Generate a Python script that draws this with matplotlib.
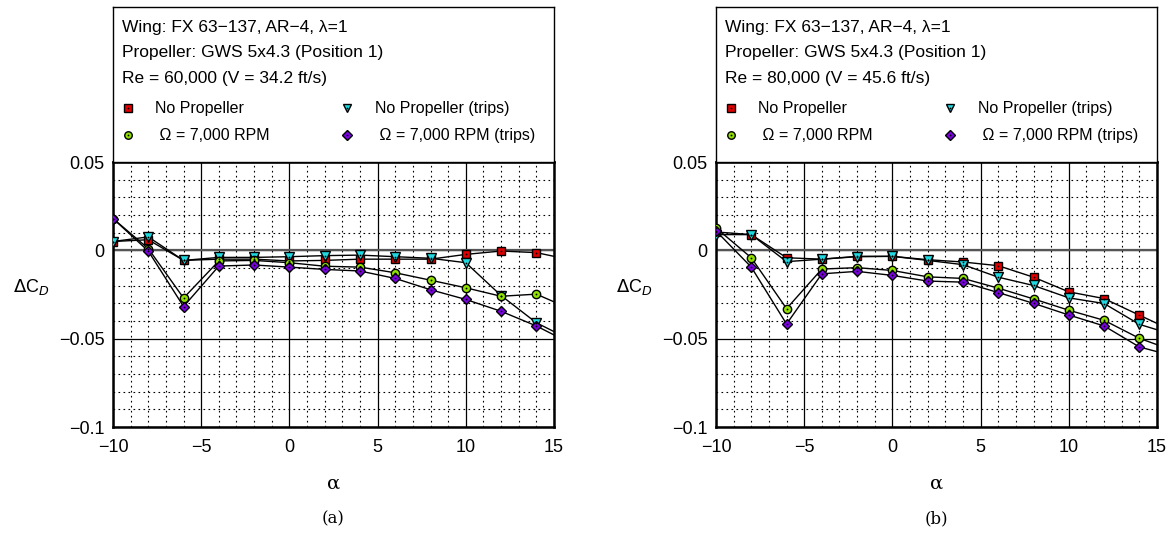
import numpy as np
import matplotlib
matplotlib.use('Agg')
import matplotlib.pyplot as plt

# angulo de ataque (el punto en 16 solo prolonga la linea hasta el borde)
alpha = [-10, -8, -6, -4, -2, 0, 2, 4, 6, 8, 10, 12, 14, 16]

# Re = 60,000
a_noprop = [0.005, 0.006, -0.0057, -0.005, -0.005, -0.006, -0.0057, -0.005, -0.005, -0.005, -0.0023, -0.0004, -0.0013, -0.0055]
a_noprop_tr = [0.005, 0.0076, -0.0057, -0.004, -0.004, -0.0036, -0.003, -0.0027, -0.0036, -0.0045, -0.007, -0.0256, -0.041, -0.051]
a_rpm = [0.018, 0.001, -0.027, -0.006, -0.0057, -0.007, -0.009, -0.0095, -0.0127, -0.0169, -0.0212, -0.026, -0.0248, -0.0335]
a_rpm_tr = [0.018, -0.0004, -0.0318, -0.0089, -0.0083, -0.0095, -0.0108, -0.0117, -0.0159, -0.0223, -0.0278, -0.0345, -0.0428, -0.053]

# Re = 80,000
b_noprop = [0.0104, 0.0089, -0.0042, -0.005, -0.0034, -0.0034, -0.0053, -0.0066, -0.0087, -0.0152, -0.0235, -0.0273, -0.0367, -0.046]
b_noprop_tr = [0.0089, 0.0089, -0.0064, -0.005, -0.0036, -0.0034, -0.0057, -0.0081, -0.0152, -0.0199, -0.0269, -0.0301, -0.0419, -0.048]
b_rpm = [0.0127, -0.0042, -0.033, -0.0106, -0.0098, -0.0114, -0.015, -0.0159, -0.0214, -0.0275, -0.0339, -0.0396, -0.0498, -0.057]
b_rpm_tr = [0.011, -0.0095, -0.0417, -0.0133, -0.0119, -0.0142, -0.0174, -0.018, -0.0239, -0.03, -0.0366, -0.0428, -0.0547, -0.06]

titulo = ['Wing: FX 63\u2212137, AR\u22124, \u03bb=1', 'Propeller: GWS 5x4.3 (Position 1)']
re_txt = ['Re = 60,000 (V = 34.2 ft/s)', 'Re = 80,000 (V = 45.6 ft/s)']
etiquetas = ['No Propeller', 'No Propeller (trips)', ' \u03a9 = 7,000 RPM', ' \u03a9 = 7,000 RPM (trips)']
subfig = ['(a)', '(b)']

# estilo de cada serie: marcador, color, tamano
estilos = [('s', '#e00000', 6.0), ('v', '#20d8e0', 7.0), ('o', '#90e000', 6.0), ('D', '#7a00e0', 5.2)]

plt.rcParams['font.family'] = ['Liberation Sans', 'DejaVu Sans']
plt.rcParams['axes.unicode_minus'] = True

fig = plt.figure(figsize=(11.73, 5.34), dpi=100)
W, H = 1173.0, 534.0

def serie(ax, y, est):
    m, c, s = est
    ax.plot(alpha, y, color='black', lw=1.0, zorder=3)
    ax.plot(alpha, y, linestyle='none', marker=m, ms=s, mfc=c, mec='black', mew=1.0, zorder=4)
    ax.plot(alpha, y, linestyle='none', marker='o', ms=1.3, mfc='black', mec='black', mew=0, zorder=5)

datos = [[a_noprop, a_noprop_tr, a_rpm, a_rpm_tr], [b_noprop, b_noprop_tr, b_rpm, b_rpm_tr]]
izq = [113, 716]

for k in range(2):
    x0 = izq[k]
    ancho = 441
    ax = fig.add_axes([x0 / W, (H - 427) / H, ancho / W, 265 / H])
    caja = fig.add_axes([x0 / W, (H - 162) / H, ancho / W, 155 / H])

    ax.set_xlim(-10, 15)
    ax.set_ylim(-0.1, 0.05)
    ax.set_xticks([-10, -5, 0, 5, 10, 15])
    ax.set_yticks([-0.1, -0.05, 0, 0.05])
    ax.set_yticklabels(['\u22120.1', '\u22120.05', '0', '0.05'])
    ax.set_xticklabels(['\u221210', '\u22125', '0', '5', '10', '15'])
    ax.set_xticks(np.arange(-10, 16, 1), minor=True)
    ax.set_yticks(np.arange(-0.1, 0.051, 0.01), minor=True)
    ax.grid(which='minor', color='black', linestyle=(0, (1.5, 3)), lw=0.8)
    ax.grid(which='major', color='black', linestyle='-', lw=0.9)
    ax.axhline(0, color='#555555', lw=1.6, zorder=2)
    ax.tick_params(which='both', length=0, labelsize=13)
    ax.tick_params(axis='x', pad=9)
    ax.tick_params(axis='y', pad=6)
    for sp in ax.spines.values():
        sp.set_linewidth(1.8)
    ax.set_axisbelow(True)

    for y, est in zip(datos[k], estilos):
        serie(ax, y, est)

    ax.set_ylabel(r'$\Delta$C$_{\mathit{D}}$', rotation=0, fontsize=13)
    ax.yaxis.set_label_coords(-0.185, 0.49)
    ax.set_xlabel('\u03b1', fontsize=14, family='DejaVu Serif')
    ax.xaxis.set_label_coords(0.5, -0.18)
    ax.text(0.5, -0.345, subfig[k], transform=ax.transAxes, ha='center', va='center',
            fontsize=12, family='DejaVu Serif')

    # recuadro con la descripcion y la leyenda
    caja.set_xticks([])
    caja.set_yticks([])
    for sp in caja.spines.values():
        sp.set_linewidth(1.0)
    caja.set_xlim(0, 1)
    caja.set_ylim(0, 1)
    caja.text(0.02, 0.839, titulo[0], fontsize=12.5, va='baseline')
    caja.text(0.02, 0.677, titulo[1], fontsize=12.5, va='baseline')
    caja.text(0.02, 0.51, re_txt[k], fontsize=12.5, va='baseline')

    mx = [0.034, 0.531, 0.034, 0.531]
    tx = [0.095, 0.594, 0.095, 0.594]
    fy = [0.348, 0.348, 0.174, 0.174]
    for i in range(4):
        m, c, s = estilos[i]
        caja.plot(mx[i], fy[i], linestyle='none', marker=m, ms=s * 0.9, mfc=c, mec='black', mew=1.0)
        caja.plot(mx[i], fy[i], linestyle='none', marker='o', ms=1.3, mfc='black', mew=0)
        caja.text(tx[i], fy[i], etiquetas[i], fontsize=11.5, va='center')

fig.savefig('out.png', dpi=100)
